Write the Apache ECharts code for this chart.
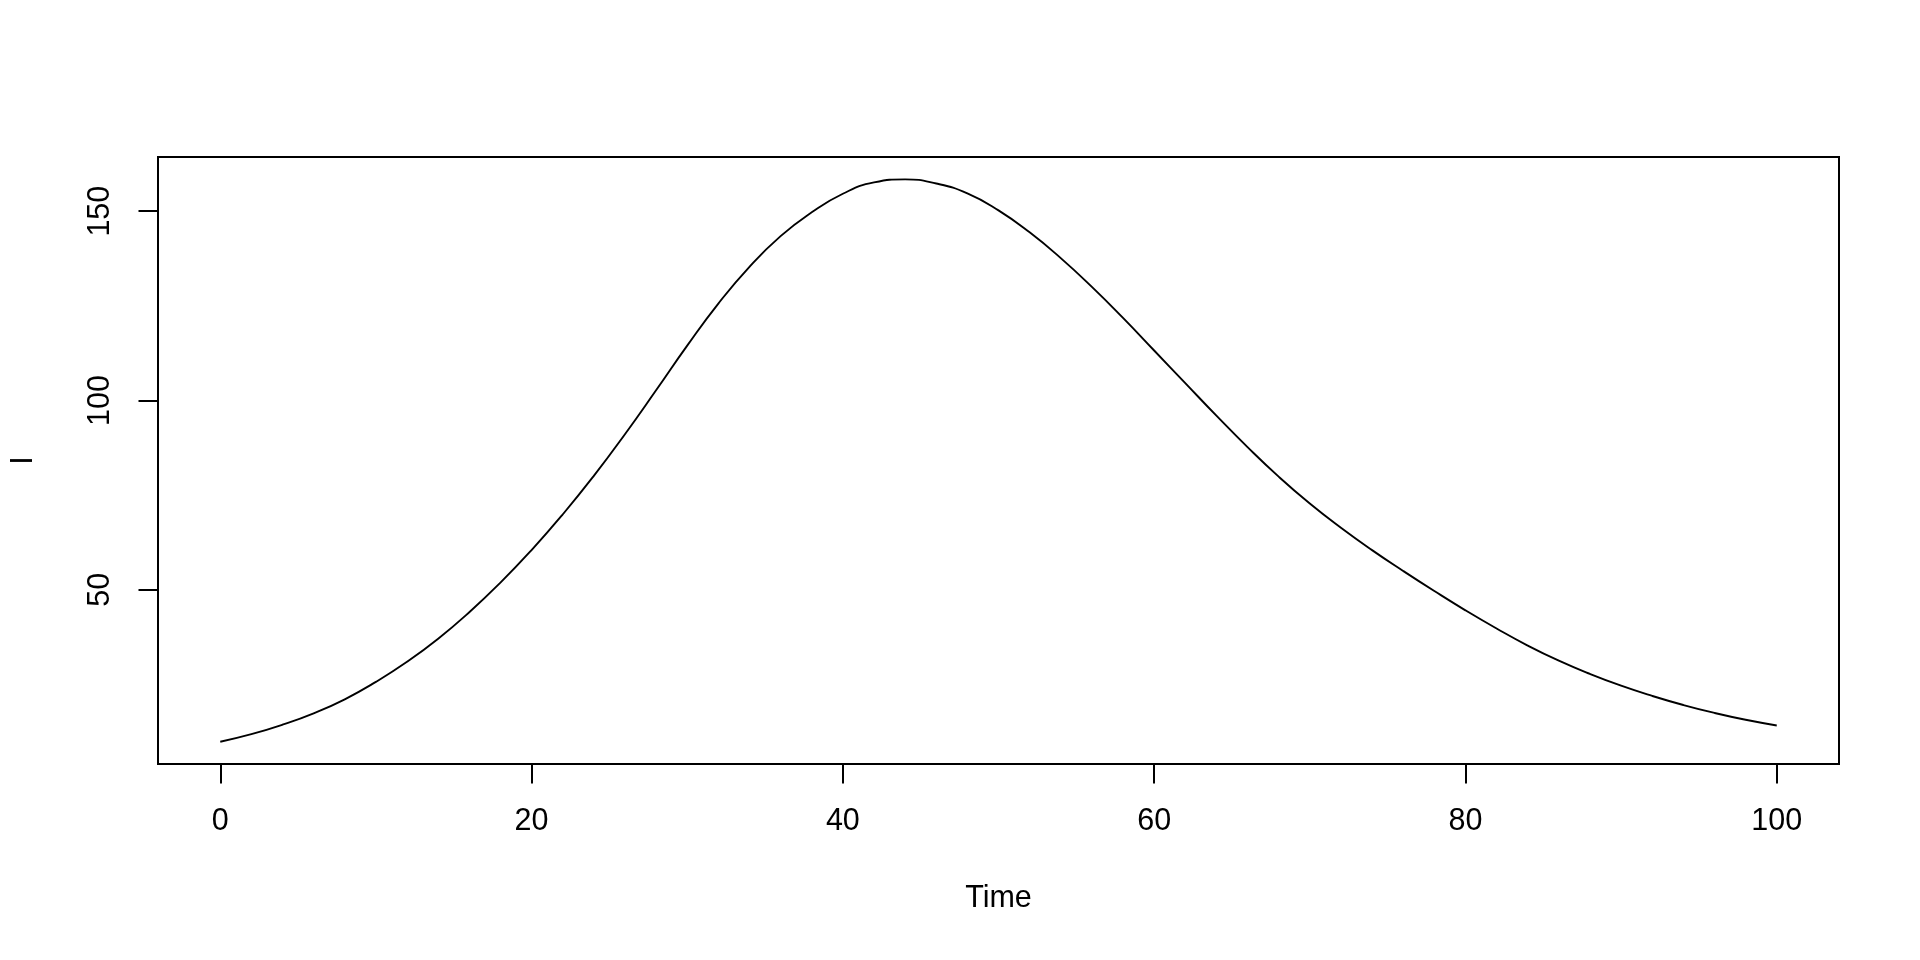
<!DOCTYPE html>
<html>
<head>
<meta charset="utf-8">
<script src="https://cdn.jsdelivr.net/npm/echarts@6/dist/echarts.min.js"></script>
<style>
html,body{margin:0;padding:0;background:#fff;}
#chart{width:1920px;height:960px;}
</style>
</head>
<body>
<div id="chart"></div>
<script>
var times = [0,2,4,6,8,10,12,14,16,18,20,22,24,26,28,30,32,34,36,38,40,42,44,46,48,50,
             52,54,56,58,60,62,64,66,68,70,72,74,76,78,80,82,84,86,88,90,92,94,96,98,100];
var infected = [9.9,11.9,14.4,17.4,21.1,25.7,31.0,37.1,44.1,51.9,60.5,69.9,80.1,91.1,102.7,114.5,125.6,135.3,143.4,149.7,154.6,157.6,158.4,157.3,154.7,150.2,
                144.4,137.6,130.0,121.8,113.2,104.6,96.0,87.7,79.9,72.8,66.4,60.5,55.0,49.7,44.6,39.8,35.3,31.3,27.8,24.7,22.0,19.6,17.5,15.7,14.2];
var xTicks = [0,20,40,60,80,100];
var yTicks = [50,100,150];
var xName = 'Time';
var yName = 'I';

var font = 'Liberation Sans, Arial, Helvetica, sans-serif';
var fs = 30.5;

var chart = echarts.init(document.getElementById('chart'), null, {renderer:'canvas'});
chart.setOption({
  animation: false,
  backgroundColor: '#ffffff',
  grid: {
    left: 157, top: 157, width: 1682, height: 607,
    show: true, borderColor: '#000', borderWidth: 2, backgroundColor: 'transparent'
  },
  xAxis: {
    type: 'value', min: -4, max: 104,
    name: xName, nameLocation: 'middle', nameGap: 119,
    nameTextStyle: {color:'#000', fontFamily: font, fontSize: fs},
    axisLine: {show: false, onZero: false},
    splitLine: {show: false},
    axisTick: {show: true, inside: false, length: 19.5, customValues: xTicks,
               lineStyle: {color:'#000', width: 2}},
    axisLabel: {show: true, customValues: xTicks, margin: 42,
                color:'#000', fontFamily: font, fontSize: fs}
  },
  yAxis: {
    type: 'value', min: 4.02, max: 164.3,
    name: yName, nameLocation: 'middle', nameGap: 119, nameRotate: 90,
    nameTextStyle: {color:'#000', fontFamily: font, fontSize: fs},
    axisLine: {show: false, onZero: false},
    splitLine: {show: false},
    axisTick: {show: true, inside: false, length: 19.5, customValues: yTicks,
               lineStyle: {color:'#000', width: 2}},
    axisLabel: {show: true, customValues: yTicks, margin: 42, rotate: 90,
                color:'#000', fontFamily: font, fontSize: fs}
  },
  series: [{
    type: 'line',
    data: times.map(function(t,i){ return [t, infected[i]]; }),
    smooth: true,
    showSymbol: false,
    lineStyle: {color:'#000', width: 1.9},
    clip: false
  }]
});
</script>
</body>
</html>
